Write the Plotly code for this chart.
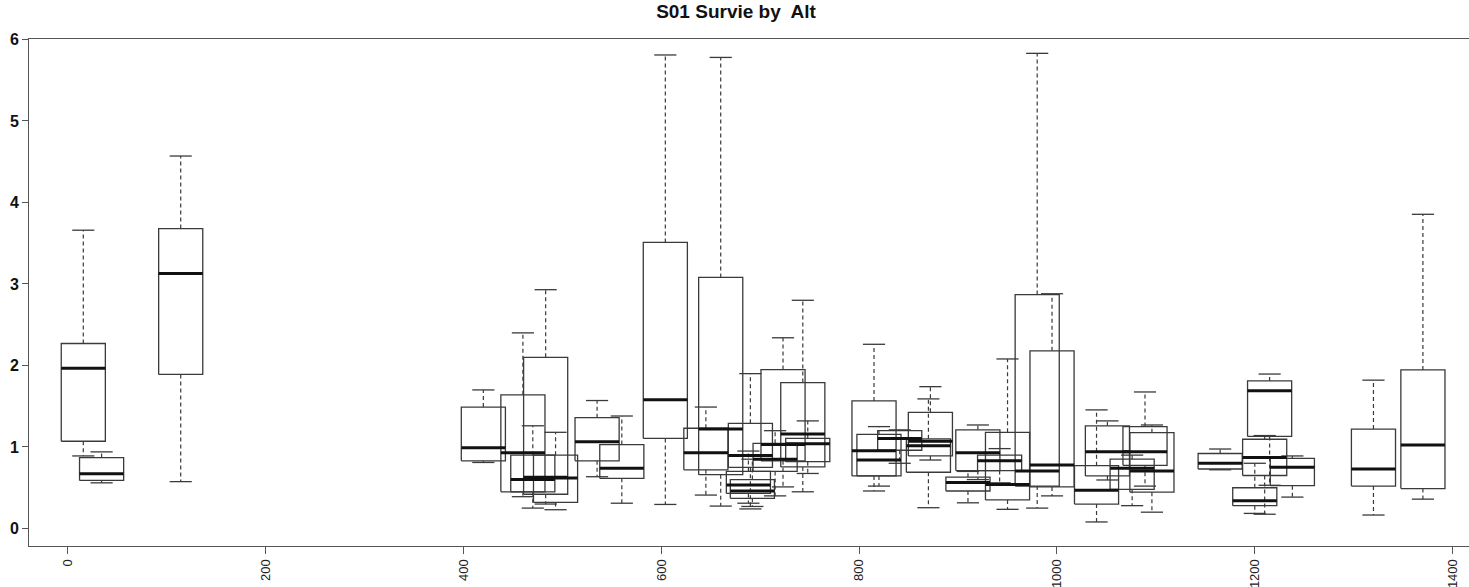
import plotly.graph_objects as go

# ---- data ----
alt = [15.5, 34, 114, 420, 460, 470, 483, 493, 535, 560,
       604, 645, 660, 690, 688, 692, 715, 723, 743, 748,
       815, 820, 841, 872, 870, 910, 920, 942, 950, 980,
       995, 1040, 1051, 1076, 1089, 1096, 1165, 1200, 1210, 1215,
       1238, 1320, 1370]
lower = [0.89, 0.56, 0.575, 0.81, 0.39, 0.25, 0.30, 0.23, 0.635, 0.31,
         0.295, 0.41, 0.275, 0.24, 0.31, 0.27, 0.40, 0.51, 0.45, 0.675,
         0.46, 0.52, 0.80, 0.84, 0.255, 0.315, 0.60, 0.56, 0.235, 0.25,
         0.40, 0.08, 0.595, 0.28, 0.52, 0.20, 0.72, 0.185, 0.175, 0.53,
         0.385, 0.165, 0.36]
q1 = [1.07, 0.59, 1.89, 0.83, 0.45, 0.45, 0.42, 0.32, 0.83, 0.615,
      1.105, 0.72, 0.66, 0.75, 0.43, 0.37, 0.70, 0.83, 0.755, 0.82,
      0.645, 0.645, 0.96, 0.89, 0.69, 0.46, 0.71, 0.71, 0.35, 0.52,
      0.51, 0.30, 0.645, 0.48, 0.775, 0.445, 0.73, 0.28, 0.65, 1.13,
      0.525, 0.52, 0.49]
med = [1.965, 0.67, 3.13, 0.99, 0.93, 0.60, 0.63, 0.62, 1.065, 0.74,
       1.58, 0.93, 1.22, 0.895, 0.535, 0.46, 0.85, 1.03, 1.16, 1.04,
       0.955, 0.84, 1.105, 1.07, 1.015, 0.565, 0.93, 0.83, 0.54, 0.705,
       0.78, 0.47, 0.94, 0.74, 0.94, 0.705, 0.80, 0.34, 0.87, 1.69,
       0.75, 0.73, 1.025]
q3 = [2.27, 0.87, 3.68, 1.49, 1.64, 0.90, 2.10, 0.90, 1.36, 1.03,
      3.51, 1.23, 3.08, 1.29, 0.70, 0.60, 1.045, 1.95, 1.79, 1.105,
      1.565, 1.155, 1.20, 1.425, 1.10, 0.63, 1.21, 0.90, 1.18, 2.87,
      2.18, 0.77, 1.26, 0.85, 1.25, 1.175, 0.92, 0.50, 1.095, 1.81,
      0.86, 1.22, 1.945]
upper = [3.66, 0.94, 4.57, 1.70, 2.40, 1.26, 2.93, 1.18, 1.57, 1.38,
         5.81, 1.49, 5.78, 1.90, 0.95, 0.85, 1.20, 2.34, 2.80, 1.32,
         2.26, 1.25, 1.21, 1.74, 1.59, 0.70, 1.27, 0.98, 2.08, 5.83,
         2.88, 1.455, 1.32, 0.90, 1.675, 1.27, 0.975, 0.80, 1.14, 1.895,
         0.89, 1.82, 3.855]

x_ticks = [0, 200, 400, 600, 800, 1000, 1200, 1400]
y_ticks = [0, 1, 2, 3, 4, 5, 6]

# ---- styles ----
HW = 22.3     # box half width (axis units)
CW = 11.2     # cap half width
BOX_COL = "#3a3a3a"

bx, by, mx, my, wx, wy, cx, cy = [], [], [], [], [], [], [], []
for a, lo, a1, m, a3, hi in zip(alt, lower, q1, med, q3, upper):
    bx += [a - HW, a + HW, a + HW, a - HW, a - HW, None]
    by += [a1, a1, a3, a3, a1, None]
    mx += [a - HW, a + HW, None]
    my += [m, m, None]
    wx += [a, a, None, a, a, None]
    wy += [a3, hi, None, a1, lo, None]
    cx += [a - CW, a + CW, None, a - CW, a + CW, None]
    cy += [hi, hi, None, lo, lo, None]

fig = go.Figure()
fig.add_trace(go.Scatter(x=wx, y=wy, mode="lines", hoverinfo="skip",
                         line=dict(color=BOX_COL, width=1.2, dash="4px,3px")))
fig.add_trace(go.Scatter(x=cx, y=cy, mode="lines", hoverinfo="skip",
                         line=dict(color=BOX_COL, width=1.3)))
fig.add_trace(go.Scatter(x=bx, y=by, mode="lines", hoverinfo="skip",
                         line=dict(color=BOX_COL, width=1.3)))
fig.add_trace(go.Scatter(x=mx, y=my, mode="lines", hoverinfo="skip",
                         line=dict(color="#111111", width=3)))

fig.update_layout(
    width=1469, height=587,
    margin=dict(l=29, r=0, t=39, b=41),
    paper_bgcolor="white", plot_bgcolor="white",
    showlegend=False,
    font=dict(family="Liberation Sans, Arial, sans-serif", color="#222"),
    title=dict(text="<b>S01 Survie by  Alt</b>", x=0.491, xref="paper",
               xanchor="center", y=0.981, yanchor="middle", yref="container",
               font=dict(size=19, color="#111")),
    xaxis=dict(range=[-39.4, 1416.6], tickmode="array", tickvals=x_ticks,
               ticktext=[str(v) for v in x_ticks], tickangle=-90,
               automargin=False, ticklabelstandoff=0,
               showgrid=False, zeroline=False, showline=True, mirror=True,
               linecolor="#555", linewidth=1, ticks="outside", ticklen=7,
               tickcolor="#555", tickfont=dict(size=13, color="#222")),
    yaxis=dict(range=[-0.215, 6.006], tickmode="array", tickvals=y_ticks,
               ticktext=[str(v) for v in y_ticks], automargin=False,
               showgrid=False, zeroline=False, showline=True,
               linecolor="#555", linewidth=1, ticks="outside", ticklen=6,
               tickcolor="#555",
               tickfont=dict(size=16, color="#111", weight="bold")),
)

fig.write_html("out.html")
